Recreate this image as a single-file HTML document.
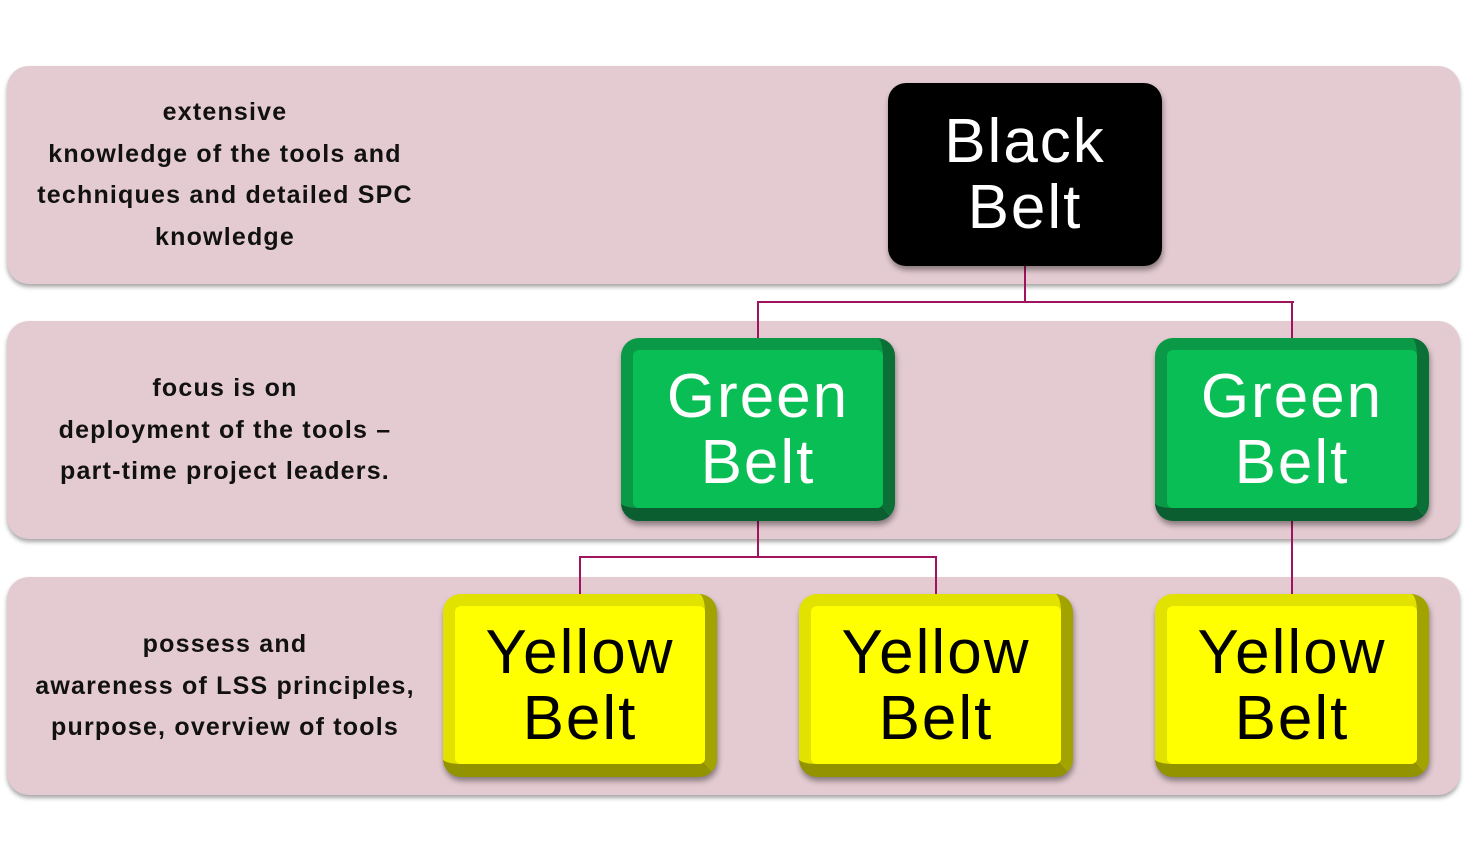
<!DOCTYPE html>
<html><head><style>
body{margin:0;width:1466px;height:860px;background:#fff;position:relative;overflow:hidden;font-family:"Liberation Sans",sans-serif}
.band{position:absolute;left:7px;width:1453px;height:218px;background:#e3cbd1;border-radius:22px;box-shadow:0 3px 4px rgba(0,0,0,.35)}
.lt{position:absolute;left:20px;width:410px;text-align:center;font-weight:bold;font-size:25px;line-height:41.5px;color:#111;letter-spacing:1.2px}
.box{position:absolute;width:274px;height:183px;border-radius:18px;box-sizing:border-box;box-shadow:1px 4px 6px rgba(0,0,0,.4)}
.box .in{position:absolute;left:12px;top:12px;right:12px;bottom:13px;border-radius:6px;display:flex;align-items:center;justify-content:center;text-align:center;font-size:62px;line-height:66px;padding-top:2px;letter-spacing:2px}
.g{background:#0a9a47;border-right:12px solid #0a7035;border-bottom:13px solid #0b5e30;}
.g .in{background:#0abe56;color:#fff;left:12px;top:12px;right:0;bottom:0}
.y{background:#e2e200;border-right:12px solid #a3a300;border-bottom:13px solid #939300;}
.y .in{background:#ffff00;color:#000;left:12px;top:12px;right:0;bottom:0}
.k{background:#000;}
.k .in{color:#fff}
.ln{position:absolute;background:#a0145e}
</style></head><body>
<div class="band" style="top:66px"></div>
<div class="band" style="top:321px"></div>
<div class="band" style="top:577px"></div>

<div class="lt" style="top:92px">extensive<br>knowledge of the tools and<br>techniques and detailed SPC<br>knowledge</div>
<div class="lt" style="top:368px">focus is on<br>deployment of the tools –<br>part-time project leaders.</div>
<div class="lt" style="top:624px">possess and<br>awareness of LSS principles,<br>purpose, overview of tools</div>

<div class="ln" style="left:1024px;top:266px;width:2px;height:37px"></div>
<div class="ln" style="left:757px;top:301px;width:537px;height:2px"></div>
<div class="ln" style="left:757px;top:301px;width:2px;height:37px"></div>
<div class="ln" style="left:1291px;top:301px;width:2px;height:37px"></div>
<div class="ln" style="left:757px;top:521px;width:2px;height:37px"></div>
<div class="ln" style="left:579px;top:556px;width:358px;height:2px"></div>
<div class="ln" style="left:579px;top:556px;width:2px;height:38px"></div>
<div class="ln" style="left:935px;top:556px;width:2px;height:38px"></div>
<div class="ln" style="left:1291px;top:521px;width:2px;height:73px"></div>

<div class="box k" style="left:888px;top:83px"><div class="in">Black<br>Belt</div></div>
<div class="box g" style="left:621px;top:338px"><div class="in">Green<br>Belt</div></div>
<div class="box g" style="left:1155px;top:338px"><div class="in">Green<br>Belt</div></div>
<div class="box y" style="left:443px;top:594px"><div class="in">Yellow<br>Belt</div></div>
<div class="box y" style="left:799px;top:594px"><div class="in">Yellow<br>Belt</div></div>
<div class="box y" style="left:1155px;top:594px"><div class="in">Yellow<br>Belt</div></div>
</body></html>
